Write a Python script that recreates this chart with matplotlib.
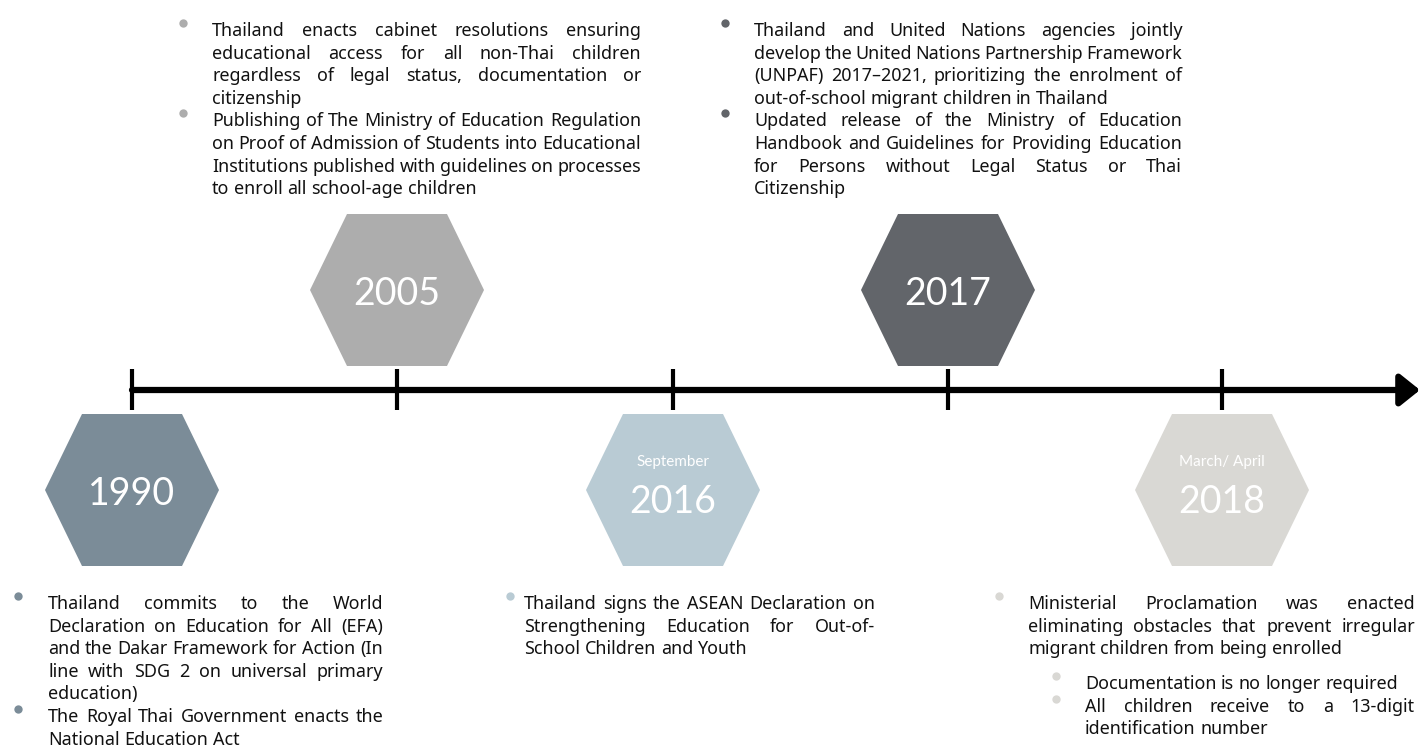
import matplotlib
matplotlib.use("Agg")
import matplotlib.pyplot as plt
from matplotlib.patches import Polygon
from matplotlib.font_manager import FontProperties

# ---- data ----
years = ["1990", "2005", "2016", "2017", "2018"]
months = ["", "", "September", "", "March/ April"]
above = [False, True, False, True, False]
hex_colors = ["#7b8c98", "#adadad", "#b9cbd4", "#62656a", "#d9d8d4"]

notes_1990 = [
    ["Thailand commits to the World",
     "Declaration on Education for All (EFA)",
     "and the Dakar Framework for Action (In",
     "line with SDG 2 on universal primary",
     "education)"],
    ["The Royal Thai Government enacts the",
     "National Education Act"],
]
notes_2005 = [
    ["Thailand enacts cabinet resolutions ensuring",
     "educational access for all non-Thai children",
     "regardless of legal status, documentation or",
     "citizenship"],
    ["Publishing of The Ministry of Education Regulation",
     "on Proof of Admission of Students into Educational",
     "Institutions published with guidelines on processes",
     "to enroll all school-age children"],
]
notes_2016 = [
    ["Thailand signs the ASEAN Declaration on",
     "Strengthening Education for Out-of-",
     "School Children and Youth"],
]
notes_2017 = [
    ["Thailand and United Nations agencies jointly",
     "develop the United Nations Partnership Framework",
     "(UNPAF) 2017\u20132021, prioritizing the enrolment of",
     "out-of-school migrant children in Thailand"],
    ["Updated release of the Ministry of Education",
     "Handbook and Guidelines for Providing Education",
     "for Persons without Legal Status or Thai",
     "Citizenship"],
]
notes_2018 = [
    ["Ministerial Proclamation was enacted",
     "eliminating obstacles that prevent irregular",
     "migrant children from being enrolled"],
]
notes_2018_sub = [
    ["Documentation is no longer required"],
    ["All children receive to a 13-digit",
     "identification number"],
]

# ---- layout (pixels) ----
W, H = 1420, 747
slot_x = [132, 397, 673, 948, 1222]
line_y = 390
LS = 22.6
TEXT_COLOR = "#111111"

fig = plt.figure(figsize=(W / 100, H / 100), dpi=100)
ax = fig.add_axes([0, 0, 1, 1])
ax.set_xlim(0, W)
ax.set_ylim(H, 0)
ax.axis("off")
renderer = fig.canvas.get_renderer()

body_family = ["Noto Sans", "DejaVu Sans"]


def measure(s, prop):
    w, h, d = renderer.get_text_width_height_descent(s, prop, ismath=False)
    return w


blocks = [
    # paras, left, right, first baseline, bullet x, colour
    (notes_1990, 48, 383, 609, 18, hex_colors[0]),
    (notes_2005, 212, 641, 36, 183, hex_colors[1]),
    (notes_2016, 524, 875, 609, 510, hex_colors[2]),
    (notes_2017, 754, 1182, 36, 725, hex_colors[3]),
    (notes_2018, 1028, 1415, 609, 999, hex_colors[4]),
    (notes_2018_sub, 1085, 1415, 689, 1056, hex_colors[4]),
]

# shrink the body size only as much as the tightest line needs
size = 13.2
probe = FontProperties(family=body_family, size=size)
space_w = measure("a a", probe) - measure("aa", probe)
scale = 1.0
for paras, left, right, _, _, _ in blocks:
    for para in paras:
        for txt in para:
            words = txt.split(" ")
            nat = sum(measure(w, probe) for w in words) + 0.8 * space_w * (len(words) - 1)
            scale = min(scale, (right - left) / nat)
body = FontProperties(family=body_family, size=size * scale)
space_w = measure("a a", body) - measure("aa", body)


def draw_line(txt, left, right, y, justify):
    words = txt.split(" ")
    widths = [measure(w, body) for w in words]
    gap = space_w
    if justify and len(words) > 1:
        gap = (right - left - sum(widths)) / (len(words) - 1)
    x = left
    for w, wd in zip(words, widths):
        ax.text(x, y, w, fontproperties=body, ha="left", va="baseline", color=TEXT_COLOR)
        x += wd + gap


for paras, left, right, base0, bx, col in blocks:
    n = 0
    for para in paras:
        ax.plot(bx, base0 + n * LS - 13, "o", ms=6, color=col, mec="none")
        for j, txt in enumerate(para):
            draw_line(txt, left, right, base0 + n * LS, j < len(para) - 1)
            n += 1

# ---- timeline ----
ax.annotate("", xy=(W, line_y), xytext=(slot_x[0], line_y),
            arrowprops=dict(arrowstyle="-|>,head_length=0.5,head_width=0.4", lw=4.5,
                            color="black", mutation_scale=24, shrinkA=0, shrinkB=0))
for x in slot_x:
    ax.plot([x, x], [369, 410], color="black", lw=3, solid_capstyle="butt")

# ---- hexagons ----
hx, hy, ht = 87, 76, 50
for i, yr in enumerate(years):
    cx = slot_x[i]
    cy = 290 if above[i] else 490
    verts = [(cx - hx, cy), (cx - ht, cy - hy), (cx + ht, cy - hy),
             (cx + hx, cy), (cx + ht, cy + hy), (cx - ht, cy + hy)]
    ax.add_patch(Polygon(verts, closed=True, facecolor=hex_colors[i], edgecolor="none"))
    if months[i]:
        ax.text(cx, cy - 24, months[i], family="Lato", fontsize=11, color="white",
                ha="center", va="baseline")
        ax.text(cx, cy + 23, yr, family="Lato", fontsize=27, color="white",
                ha="center", va="baseline")
    else:
        ax.text(cx, cy + 15, yr, family="Lato", fontsize=27, color="white",
                ha="center", va="baseline")

fig.savefig("out.png", dpi=100)
